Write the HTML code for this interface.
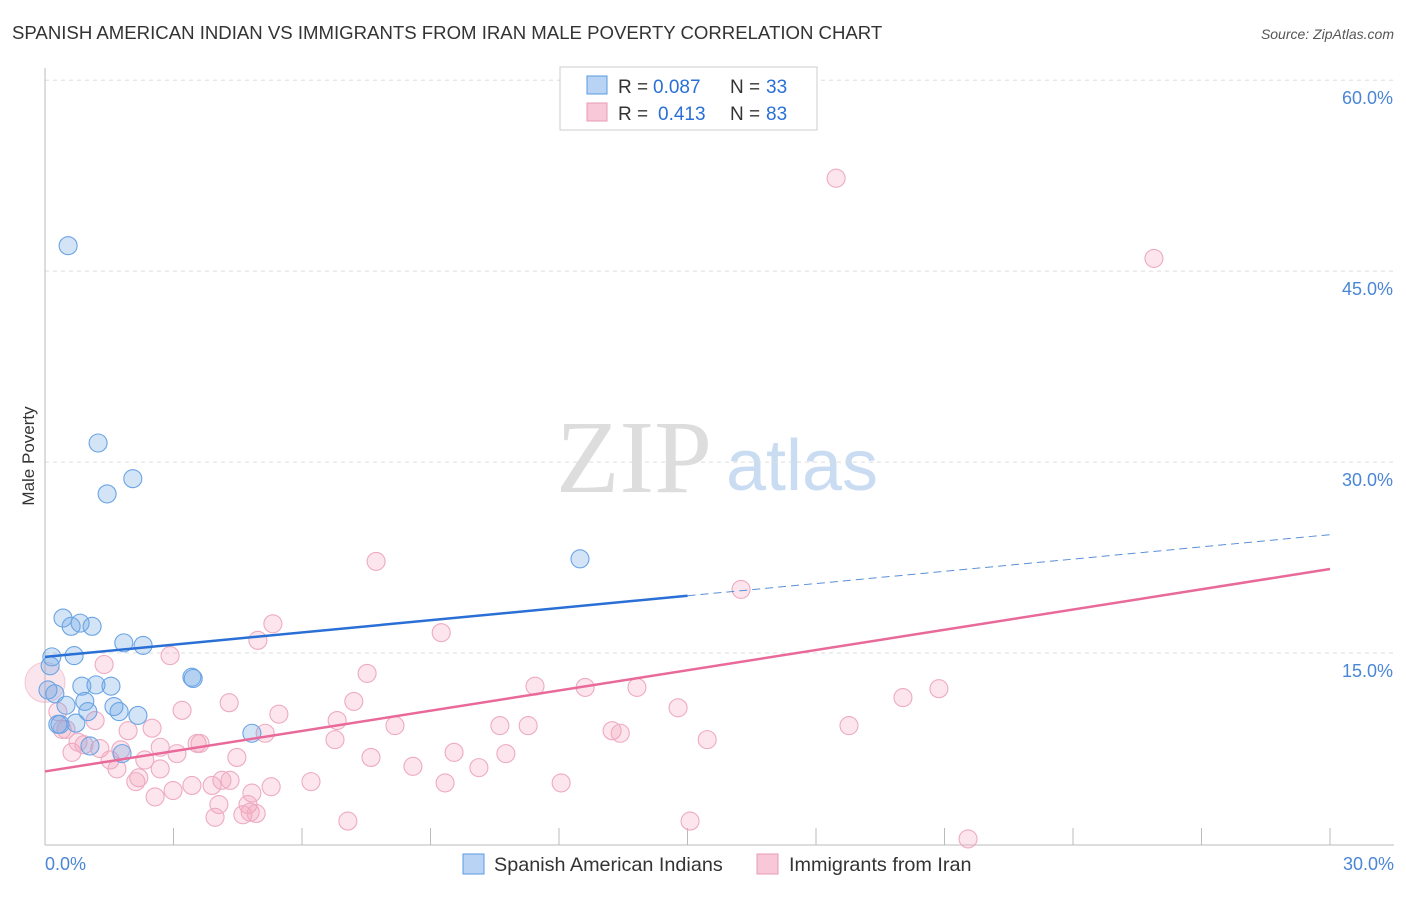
<!DOCTYPE html>
<html><head><meta charset="utf-8"><style>
body{margin:0;background:#fff;font-family:"Liberation Sans",sans-serif;}
</style></head><body>
<svg id="c" width="1406" height="892" xmlns="http://www.w3.org/2000/svg" style="font-family:'Liberation Sans',sans-serif">
<text x="12" y="39" font-size="18.6" fill="#333">SPANISH AMERICAN INDIAN VS IMMIGRANTS FROM IRAN MALE POVERTY CORRELATION CHART</text>
<text x="1394" y="39" font-size="14" fill="#555" font-style="italic" text-anchor="end">Source: ZipAtlas.com</text>
<text x="34" y="456" font-size="17" fill="#333" transform="rotate(-90 34 456)" text-anchor="middle">Male Poverty</text>
<text x="634" y="492" font-size="104" fill="#ddd" font-family="Liberation Serif" text-anchor="middle">ZIP</text>
<text x="802" y="490" font-size="72" fill="#c9dcf2" text-anchor="middle">atlas</text>
<g id="grid"></g><g id="pts"></g><g id="lines"></g>
<g>
<rect x="560" y="67" width="257" height="63" fill="#fff" stroke="#ccc"/>
<rect x="587" y="76" width="20" height="18" fill="#b8d3f3" stroke="#5b9be0"/>
<rect x="587" y="103" width="20" height="18" fill="#f9c8d8" stroke="#e89ab5"/>
<text x="618" y="93" font-size="19" fill="#333">R =</text><text x="653" y="93" font-size="19" fill="#2a6fd6">0.087</text>
<text x="730" y="93" font-size="19" fill="#333">N =</text><text x="766" y="93" font-size="19" fill="#2a6fd6">33</text>
<text x="618" y="120" font-size="19" fill="#333">R =</text><text x="658" y="120" font-size="19" fill="#2a6fd6">0.413</text>
<text x="730" y="120" font-size="19" fill="#333">N =</text><text x="766" y="120" font-size="19" fill="#2a6fd6">83</text>
</g>
<g>
<rect x="463" y="854" width="21" height="20" fill="#b8d3f3" stroke="#5b9be0"/>
<text x="494" y="871" font-size="19.8" fill="#333">Spanish American Indians</text>
<rect x="757" y="854" width="21" height="20" fill="#f9c8d8" stroke="#e89ab5"/>
<text x="789" y="871" font-size="19.8" fill="#333">Immigrants from Iran</text>
</g>
</svg>
<script>
const yTicks=[15,30,45,60];
const xTickLabels=["0.0%","30.0%"];
const blueX=[0.54,1.24,1.45,2.05,12.49,0.42,0.61,0.82,1.10,1.84,2.29,0.16,0.68,0.12,0.23,0.86,1.19,1.54,0.49,1.0,1.61,1.73,2.17,3.46,3.43,4.83,0.30,0.35,0.72,1.05,1.80,0.93,0.07];
const blueY=[47.0,31.5,27.5,28.7,22.4,17.75,17.1,17.35,17.1,15.8,15.6,14.7,14.8,14.0,11.8,12.4,12.5,12.4,10.9,10.4,10.8,10.4,10.1,13.0,13.1,8.7,9.4,9.4,9.5,7.7,7.1,11.2,12.1];
const pinkX=[18.47,25.89,7.73,16.25,5.32,4.97,9.25,2.92,1.38,7.52,4.30,3.20,7.21,11.44,12.61,13.82,20.87,20.03,5.46,6.82,8.17,10.62,11.28,14.78,18.77,13.24,13.43,15.46,2.50,1.94,5.14,6.77,3.55,3.62,4.48,3.08,2.69,1.77,1.28,0.63,0.91,1.52,2.33,7.61,9.55,10.76,8.59,10.13,2.69,1.68,2.19,2.12,4.32,4.13,3.43,3.90,2.99,6.21,5.28,9.34,12.05,2.57,4.83,4.06,4.74,4.79,4.62,3.97,4.93,7.07,15.06,21.55,0.40,0.30,0.49,1.17,0.77];
const pinkY=[52.3,46.0,22.2,20.0,17.3,16.0,16.6,14.8,14.1,13.4,11.1,10.5,11.2,12.4,12.3,12.3,12.2,11.5,10.2,9.7,9.3,9.3,9.3,10.7,9.3,8.9,8.7,8.2,9.1,8.9,8.7,8.2,7.9,7.9,6.8,7.1,7.6,7.4,7.5,7.2,7.8,6.6,6.6,6.8,7.2,7.1,6.1,6.0,5.9,5.9,5.2,4.9,5.0,5.0,4.6,4.6,4.2,4.9,4.5,4.8,4.8,3.7,4.0,3.1,3.1,2.5,2.3,2.1,2.4,1.8,1.8,0.4,9.0,10.4,9.0,9.7,8.0];
const blueTrend=[14.7,24.3];
const pinkTrend=[5.7,21.6];
const NS="http://www.w3.org/2000/svg";
const X=v=>45+v/30*1285, Y=v=>844-v*12.73;
function mk(t,a,p){const e=document.createElementNS(NS,t);for(const k in a)e.setAttribute(k,a[k]);document.getElementById(p).appendChild(e);return e;}
yTicks.forEach(t=>{const l=mk('line',{x1:45,x2:1394,y1:Y(t),y2:Y(t),stroke:'#ddd','stroke-dasharray':'4,4'},'grid');


const tx=mk('text',{x:1393,y:Y(t)+24,'font-size':18,fill:'#4a86d6','text-anchor':'end'},'grid');tx.textContent=t.toFixed(1)+'%';

});
mk('line',{x1:45,x2:45,y1:68,y2:845,stroke:'#bbb'},'grid');
mk('line',{x1:45,x2:1394,y1:845,y2:845,stroke:'#bbb'},'grid');
for(let i=1;i<=10;i++){const t=mk('line',{x1:X(i*3),x2:X(i*3),y1:828,y2:845,stroke:'#bbb'},'grid');

}
[[0,'start',45],[30,'end',1394]].forEach((d,i)=>{const t=mk('text',{x:d[2],y:870,'font-size':18,fill:'#4a86d6','text-anchor':d[1]},'grid');t.textContent=xTickLabels[i];

});
const big=mk('circle',{cx:X(0),cy:Y(12.7),r:20,fill:'rgba(240,150,180,0.25)',stroke:'rgba(232,154,181,0.5)'},'pts');


pinkX.forEach((x,i)=>{const c=mk('circle',{cx:X(x),cy:Y(pinkY[i]),r:9,fill:'rgba(244,160,188,0.28)',stroke:'#eeaac2','stroke-width':1.1},'pts');

});
blueX.forEach((x,i)=>{const c=mk('circle',{cx:X(x),cy:Y(blueY[i]),r:9,fill:'rgba(110,165,230,0.3)',stroke:'#6aa4e4','stroke-width':1.1},'pts');

});
const bv=x=>blueTrend[0]+(blueTrend[1]-blueTrend[0])*x/30, pv=x=>pinkTrend[0]+(pinkTrend[1]-pinkTrend[0])*x/30;
let l=mk('line',{x1:X(0),y1:Y(bv(0)),x2:X(15),y2:Y(bv(15)),stroke:'#2a6fd6','stroke-width':2.5},'lines');


l=mk('line',{x1:X(15),y1:Y(bv(15)),x2:X(30),y2:Y(bv(30)),stroke:'#5b8fd6','stroke-width':1,'stroke-dasharray':'8,5'},'lines');


l=mk('line',{x1:X(0),y1:Y(pv(0)),x2:X(30),y2:Y(pv(30)),stroke:'#e8699a','stroke-width':2.5},'lines');


</script>
</body></html>
